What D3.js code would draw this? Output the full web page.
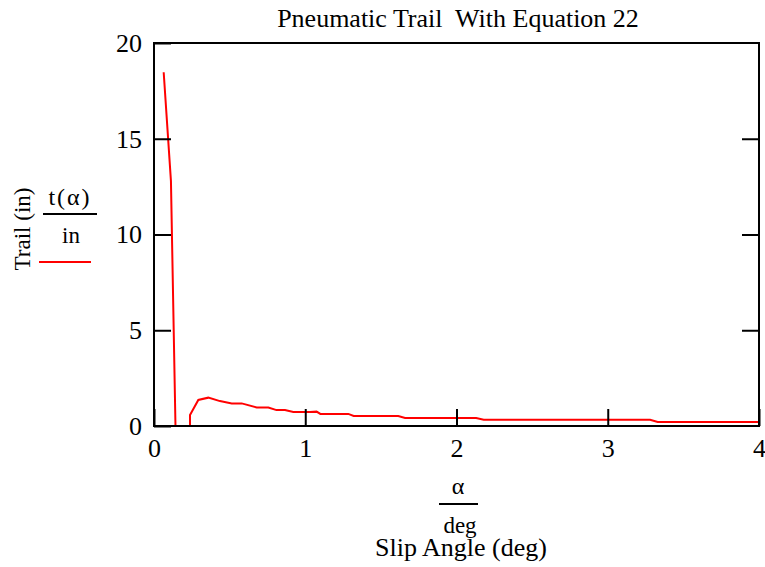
<!DOCTYPE html>
<html>
<head>
<meta charset="utf-8">
<script src="https://cdn.jsdelivr.net/npm/d3@7"></script>
<style>
  body { margin: 0; background: #fff; }
  text { font-family: "Liberation Serif", "Times New Roman", serif; fill: #000; }
</style>
</head>
<body>
<div id="chart"></div>
<script>
// slip angle (deg) and pneumatic trail (in)
var alpha = [0.064, 0.112, 0.142, 0.238, 0.238, 0.293, 0.359, 0.436, 0.514, 0.58, 0.679, 0.756, 0.81, 0.866, 0.921, 1.03, 1.075, 1.10, 1.285, 1.32, 1.615, 1.66, 2.13, 2.18, 3.28, 3.33, 4.0];
var trail = [18.47, 12.8, 0, 0, 0.57, 1.36, 1.48, 1.30, 1.18, 1.18, 0.97, 0.97, 0.83, 0.83, 0.73, 0.73, 0.75, 0.63, 0.63, 0.52, 0.52, 0.42, 0.42, 0.33, 0.33, 0.21, 0.21];
var xTicks = [0, 1, 2, 3, 4];
var yTicks = [0, 5, 10, 15, 20];

var W = 765, H = 567;
var margin = { top: 43, right: 6, bottom: 141, left: 154 };
var width = W - margin.left - margin.right,
    height = H - margin.top - margin.bottom;

var svg = d3.select("#chart").append("svg")
    .attr("width", W)
    .attr("height", H);

var g = svg.append("g")
    .attr("transform", "translate(" + margin.left + "," + margin.top + ")");

var x = d3.scaleLinear().domain([0, 4]).range([0, width]);
var y = d3.scaleLinear().domain([0, 20]).range([height, 0]);

var pts = alpha.map(function(a, i) { return [a, trail[i]]; });

// the curve
g.append("path")
    .datum(pts)
    .attr("fill", "none")
    .attr("stroke", "#ff0000")
    .attr("stroke-width", 2)
    .attr("d", d3.line()
        .x(function(d) { return x(d[0]); })
        .y(function(d) { return y(d[1]); }));

// inward ticks
var fmt = d3.format("d");
var left = g.append("g")
    .call(d3.axisLeft(y).tickValues(yTicks).tickSize(-17).tickPadding(12).tickFormat(fmt));
var right = g.append("g")
    .attr("transform", "translate(" + width + ",0)")
    .call(d3.axisRight(y).tickValues([5, 10, 15]).tickSize(-17).tickFormat(""));
var bottom = g.append("g")
    .attr("transform", "translate(0," + height + ")")
    .call(d3.axisBottom(x).tickValues(xTicks).tickSize(-17).tickPadding(13).tickFormat(fmt));

[left, right, bottom].forEach(function(a) {
  a.select(".domain").remove();
  a.selectAll(".tick line").attr("stroke", "#000").attr("stroke-width", 2);
  a.selectAll(".tick text").attr("font-size", 26).attr("fill", "#000")
    .style("font-family", "'Liberation Serif', serif");
});

// frame
g.append("rect")
    .attr("width", width)
    .attr("height", height)
    .attr("fill", "none")
    .attr("stroke", "#000")
    .attr("stroke-width", 2);

// title
svg.append("text")
    .attr("x", 458)
    .attr("y", 27)
    .attr("text-anchor", "middle")
    .attr("font-size", 26)
    .style("white-space", "pre")
    .text("Pneumatic Trail  With Equation 22");

// y-axis legend
svg.append("text")
    .attr("transform", "translate(30,229) rotate(-90)")
    .attr("text-anchor", "middle")
    .attr("font-size", 23)
    .text("Trail (in)");
svg.append("text")
    .attr("x", 70).attr("y", 205)
    .attr("text-anchor", "middle")
    .attr("font-size", 24)
    .attr("letter-spacing", 2)
    .text("t(\u03b1)");
svg.append("line")
    .attr("x1", 43).attr("x2", 97).attr("y1", 214).attr("y2", 214)
    .attr("stroke", "#000").attr("stroke-width", 2);
svg.append("text")
    .attr("x", 71).attr("y", 243)
    .attr("text-anchor", "middle")
    .attr("font-size", 23)
    .text("in");
svg.append("line")
    .attr("x1", 39).attr("x2", 91).attr("y1", 262).attr("y2", 262)
    .attr("stroke", "#ff0000").attr("stroke-width", 2);

// x-axis legend
svg.append("text")
    .attr("x", 458).attr("y", 494)
    .attr("text-anchor", "middle")
    .attr("font-size", 24)
    .text("\u03b1");
svg.append("line")
    .attr("x1", 439).attr("x2", 478).attr("y1", 504).attr("y2", 504)
    .attr("stroke", "#000").attr("stroke-width", 2);
svg.append("text")
    .attr("x", 460).attr("y", 533)
    .attr("text-anchor", "middle")
    .attr("font-size", 23)
    .text("deg");
svg.append("text")
    .attr("x", 461).attr("y", 556)
    .attr("text-anchor", "middle")
    .attr("font-size", 26)
    .text("Slip Angle (deg)");
</script>
</body>
</html>
